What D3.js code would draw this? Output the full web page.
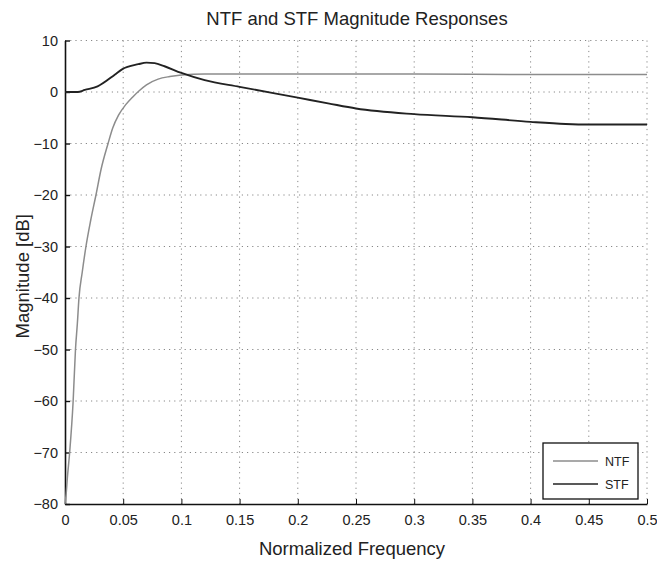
<!DOCTYPE html>
<html>
<head>
  <meta charset="utf-8">
  <title>NTF and STF Magnitude Responses</title>
  <style>
    body { margin: 0; background: #fff; }
    text { font-family: "Liberation Sans", Arial, sans-serif; fill: #222; }
    .grid line { stroke: #888; stroke-dasharray: 1.2,4; stroke-width: 1; }
    .axis path, .axis line { stroke: #111; }
  </style>
</head>
<body>
  <svg id="chart"></svg>

  <script src="https://d3js.org/d3.v7.min.js"></script>
  <script>
    // values
    const ntfFreq = [0, 0.001, 0.002, 0.004, 0.007, 0.009, 0.0106, 0.012, 0.0148, 0.018, 0.022, 0.0266, 0.031, 0.037, 0.041, 0.046, 0.052, 0.058, 0.064, 0.07, 0.08, 0.09, 0.1, 0.12, 0.15, 0.2, 0.3, 0.4, 0.5];
    const ntfDb   = [-80, -78, -75, -70, -60, -50, -45, -40, -35, -30, -25, -20, -15, -10, -7, -4.5, -2.5, -1, 0.3, 1.4, 2.5, 3.0, 3.3, 3.5, 3.5, 3.5, 3.5, 3.4, 3.4];

    const stfFreq = [0, 0.011, 0.017, 0.028, 0.043, 0.049, 0.063, 0.07, 0.077, 0.0855, 0.1, 0.12, 0.15, 0.2, 0.226, 0.25, 0.3, 0.35, 0.4, 0.43, 0.45, 0.5];
    const stfDb   = [0, 0, 0.4, 1.1, 3.4, 4.4, 5.4, 5.7, 5.6, 5.0, 3.7, 2.3, 1.0, -1.1, -2.2, -3.2, -4.3, -4.9, -5.8, -6.2, -6.3, -6.3];

    const xTicks = [0, 0.05, 0.1, 0.15, 0.2, 0.25, 0.3, 0.35, 0.4, 0.45, 0.5];
    const yTicks = [10, 0, -10, -20, -30, -40, -50, -60, -70, -80];

    const seriesNames = ["NTF", "STF"];
    const seriesColors = ["#8c8c8c", "#222"];

    const W = 657, H = 561;
    const margin = { top: 40.5, right: 10, bottom: 57, left: 65 };
    const iw = W - margin.left - margin.right;
    const ih = H - margin.top - margin.bottom;

    const svg = d3.select("#chart").attr("width", W).attr("height", H);
    const g = svg.append("g").attr("transform", `translate(${margin.left},${margin.top})`);

    const x = d3.scaleLinear().domain([0, 0.5]).range([0, iw]);
    const y = d3.scaleLinear().domain([-80, 10]).range([ih, 0]);

    // dotted grid
    g.append("g").attr("class", "grid")
      .selectAll("line.v").data(xTicks.slice(1)).enter().append("line")
      .attr("x1", d => x(d)).attr("x2", d => x(d))
      .attr("y1", 0).attr("y2", ih);
    g.append("g").attr("class", "grid")
      .selectAll("line.h").data(yTicks.slice(0, -1)).enter().append("line")
      .attr("x1", 0).attr("x2", iw)
      .attr("y1", d => y(d)).attr("y2", d => y(d));

    // axes (left and bottom only, ticks inward)
    const xAxis = d3.axisBottom(x).tickValues(xTicks).tickSizeInner(-5).tickSizeOuter(0)
      .tickPadding(11).tickFormat(d => d3.format("")(d));
    const gx = g.append("g").attr("class", "axis").attr("transform", `translate(0,${ih})`).call(xAxis);
    gx.select(".domain").attr("stroke-width", 1.6);
    gx.selectAll("text").attr("font-size", 14.5);

    const yAxis = d3.axisLeft(y).tickValues(yTicks).tickSizeInner(-5).tickSizeOuter(0).tickPadding(7);
    const gy = g.append("g").attr("class", "axis").call(yAxis);
    gy.select(".domain").attr("stroke-width", 1.6);
    gy.selectAll("line").attr("stroke-width", 1.4);
    gy.selectAll("text").attr("font-size", 14.5);

    // curves
    const line = d3.line().curve(d3.curveMonotoneX).x(d => x(d[0])).y(d => y(d[1]));
    const ntf = ntfFreq.map((f, i) => [f, ntfDb[i]]);
    const stf = stfFreq.map((f, i) => [f, stfDb[i]]);

    g.append("path").datum(ntf).attr("d", line)
      .attr("fill", "none").attr("stroke", seriesColors[0]).attr("stroke-width", 1.5);
    g.append("path").datum(stf).attr("d", line)
      .attr("fill", "none").attr("stroke", seriesColors[1]).attr("stroke-width", 1.9);

    // title and labels
    svg.append("text").attr("x", 357).attr("y", 25)
      .attr("text-anchor", "middle").attr("font-size", 18.5)
      .text("NTF and STF Magnitude Responses");
    svg.append("text").attr("x", 352).attr("y", 555)
      .attr("text-anchor", "middle").attr("font-size", 18.5)
      .text("Normalized Frequency");
    svg.append("text")
      .attr("transform", `translate(29,${margin.top + ih / 2 + 4}) rotate(-90)`)
      .attr("text-anchor", "middle").attr("font-size", 18.5)
      .text("Magnitude [dB]");

    // legend
    const lg = svg.append("g").attr("transform", "translate(543,443)");
    lg.append("rect").attr("width", 95).attr("height", 56)
      .attr("fill", "#fff").attr("stroke", "#111").attr("stroke-width", 1.3);
    seriesNames.forEach((name, i) => {
      const ly = 18 + i * 23;
      lg.append("line").attr("x1", 10).attr("x2", 55).attr("y1", ly).attr("y2", ly)
        .attr("stroke", seriesColors[i]).attr("stroke-width", 1.5);
      lg.append("text").attr("x", 62).attr("y", ly + 4.5).attr("font-size", 12.5).text(name);
    });
  </script>
</body>
</html>
